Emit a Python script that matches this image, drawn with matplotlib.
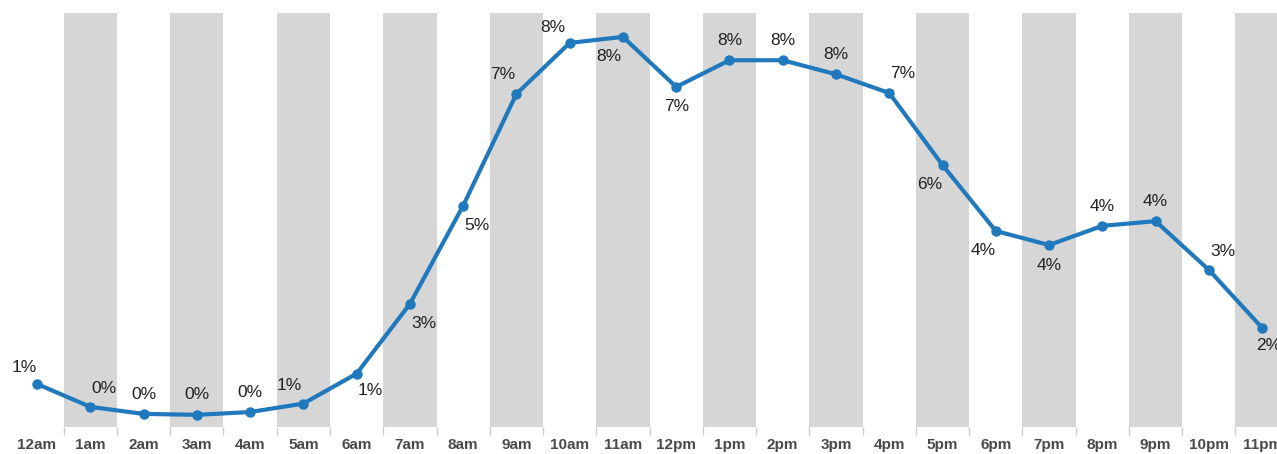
import matplotlib.pyplot as plt
import numpy as np

# share of activity per hour of the day (%)
hours = ['12am', '1am', '2am', '3am', '4am', '5am', '6am', '7am', '8am', '9am',
         '10am', '11am', '12pm', '1pm', '2pm', '3pm', '4pm', '5pm', '6pm', '7pm',
         '8pm', '9pm', '10pm', '11pm']
share = [0.98, 0.49, 0.34, 0.32, 0.38, 0.56, 1.20, 2.69, 4.79, 7.18,
         8.27, 8.40, 7.33, 7.90, 7.90, 7.60, 7.20, 5.66, 4.25, 3.95,
         4.36, 4.46, 3.42, 2.18]

# label offsets in points (dx, dy) for each point
offsets = [(-9, 12), (10, 13), (0, 14), (0, 15), (0, 14), (-10, 13), (10, -12),
           (10, -14), (10, -14), (-10, 14), (-12, 11), (-10, -14), (0, -14),
           (0, 14), (0, 14), (0, 14), (10, 14), (-9, -14), (-9, -14), (0, -15),
           (0, 14), (0, 14), (10, 13), (5, -13)]

fig = plt.figure(figsize=(12.77, 4.54), dpi=100)
ax = fig.add_axes([10.4 / 1277, 27 / 454, 1 - 10.4 / 1277, 414 / 454])

x = np.arange(len(hours))
for i in x:
    if i % 2 == 1:
        ax.axvspan(i - 0.5, i + 0.5, color='#d6d6d6', lw=0, zorder=0)

ax.plot(x, share, color='#2179bd', lw=3, marker='o', ms=6.5, zorder=3,
        solid_capstyle='round', solid_joinstyle='round')

for i, v in enumerate(share):
    dx, dy = offsets[i]
    ax.annotate(f'{v:.0f}%', (i, v), xytext=(dx, dy), textcoords='offset points',
                ha='center', va='center', fontsize=12.5, family='Liberation Sans',
                color='#222222', annotation_clip=False)

ax.set_xlim(-0.5, 23.28)
ax.set_ylim(0.06, 8.91)
ax.set_yticks([])
ax.set_xticks(x)
ax.set_xticklabels(hours, fontsize=11, fontweight='bold', family='Liberation Sans',
                   color='#4a4a4a')
ax.tick_params(axis='x', which='major', length=0, pad=8)
ax.set_xticks(x[:-1] + 0.5, minor=True)
ax.tick_params(axis='x', which='minor', length=6, color='#cccccc', width=1)
for s in ax.spines.values():
    s.set_visible(False)

fig.savefig('out.png', dpi=100)
